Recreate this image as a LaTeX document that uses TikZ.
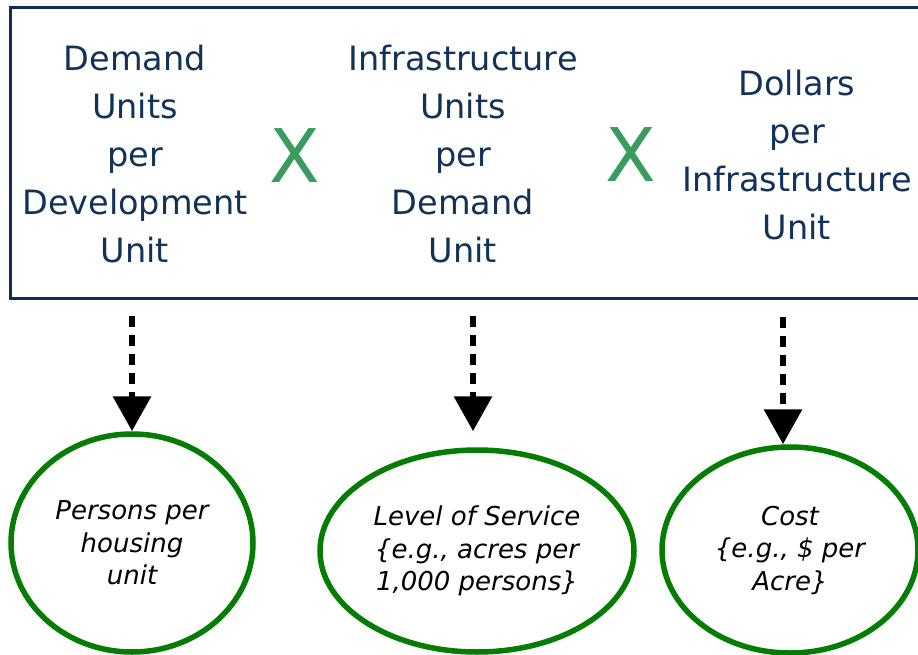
\documentclass[tikz,border=0pt]{standalone}
\usepackage{fontspec}
\setmainfont{DejaVu Sans}
\usetikzlibrary{arrows.meta,shapes.geometric}
\definecolor{navy}{RGB}{14,46,92}
\definecolor{labelnavy}{RGB}{18,50,90}
\definecolor{timesgreen}{RGB}{58,155,95}
\definecolor{ringgreen}{RGB}{5,125,5}
\begin{document}
\begin{tikzpicture}[x=1pt,y=-1pt,
  factor/.style={text=labelnavy, align=center, font=\fontsize{33.5}{48}\selectfont, inner sep=0},
  times/.style={text=timesgreen, font=\fontsize{74}{74}\selectfont, inner sep=0},
  example/.style={ellipse, draw=ringgreen, line width=5.5pt, inner sep=0, align=center,
    font=\itshape\fontsize{26}{32.5}\selectfont},
  feeds/.style={line width=6.5pt, dash pattern=on 11pt off 8pt,
    -{Triangle[length=35pt,width=37pt]}}]
\clip (0,0) rectangle (918,655);
\fill[white] (0,0) rectangle (918,655);

% frame holding the three factors (open to the right)
\draw[navy, line width=3pt] (940,8) -- (10,8) -- (10,298) -- (940,298);

% factors
\node[factor] (f1) at (135,154) {Demand\\Units\\per\\Development\\Unit};
\node[factor] (f2) at (463,154) {Infrastructure\\Units\\per\\Demand\\Unit};
\node[factor] (f3) at (797,155) {Dollars\\per\\Infrastructure\\Unit};
\node[times] (x1) at (295,156) {X};
\node[times] (x2) at (631,155) {X};

% examples
\node[example, minimum width=242pt, minimum height=218pt] (e1) at (132,543)
  {Persons per\\housing\\unit};
\node[example, minimum width=314pt, minimum height=202pt] (e2) at (477,551)
  {Level of Service\\\{e.g., acres per\\1,000 persons\}};
\node[example, minimum width=256pt, minimum height=206pt] (e3) at (790,550)
  {Cost\\\{e.g., \$ per\\Acre\}};

% connectors
\coordinate (a1) at (132,316);
\coordinate (a2) at (473,316);
\coordinate (a3) at (783,317);
\draw[feeds] (a1) -- (a1 |- e1.north);
\draw[feeds, shorten >=16pt] (a2) -- (a2 |- e2.north);
\draw[feeds] (a3) -- (a3 |- e3.north);
\end{tikzpicture}
\end{document}
